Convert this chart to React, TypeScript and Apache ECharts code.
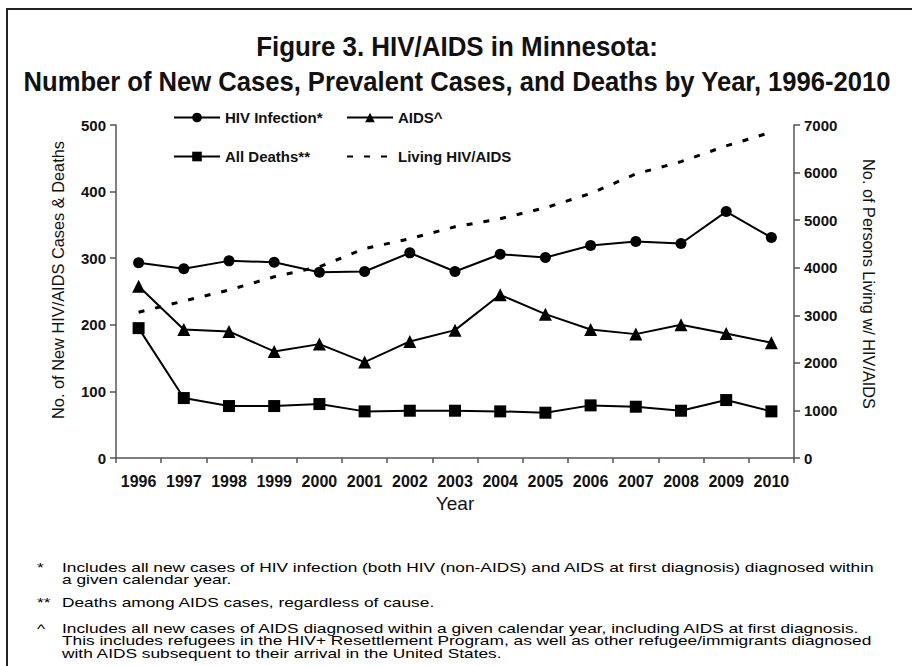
import React, { useEffect, useRef } from "react";
import * as echarts from "echarts";

const years = ["1996", "1997", "1998", "1999", "2000", "2001", "2002", "2003", "2004", "2005", "2006", "2007", "2008", "2009", "2010"];
const hivInfection = [293, 284, 296, 294, 279, 280, 308, 280, 306, 301, 319, 325, 322, 370, 331];
const aidsCases = [258, 193, 190, 160, 171, 144, 175, 192, 245, 216, 193, 186, 200, 187, 173];
const allDeaths = [195, 90, 78, 78, 81, 70, 71, 71, 70, 68, 79, 77, 71, 87, 70];
const livingHivAids = [3065, 3300, 3530, 3810, 4020, 4400, 4610, 4860, 5030, 5260, 5560, 5970, 6230, 6560, 6850];

const titleLine1 = "Figure 3. HIV/AIDS in Minnesota:";
const titleLine2 = "Number of New Cases, Prevalent Cases, and Deaths by Year, 1996-2010";
const leftAxisName = "No. of New HIV/AIDS Cases & Deaths";
const rightAxisName = "No. of Persons Living w/ HIV/AIDS";
const footnotes = [
  { mark: "*", lines: ["Includes all new cases of HIV infection (both HIV (non-AIDS) and AIDS at first diagnosis) diagnosed within", "a given calendar year."] },
  { mark: "**", lines: ["Deaths among AIDS cases, regardless of cause."] },
  { mark: "^", lines: ["Includes all new cases of AIDS diagnosed within a given calendar year, including AIDS at first diagnosis.", "This includes refugees in the HIV+ Resettlement Program, as well as other refugee/immigrants diagnosed", "with AIDS subsequent to their arrival in the United States."] },
];

const SANS = '"Liberation Sans", Arial, sans-serif';

function measure(text: string, font: string): number {
  const ctx = document.createElement("canvas").getContext("2d");
  if (!ctx) return text.length * 8;
  ctx.font = font;
  return ctx.measureText(text).width || text.length * 8;
}

export default function App() {
  const ref = useRef<HTMLDivElement>(null);
  useEffect(() => {
    if (!ref.current) return;
    const chart = echarts.init(ref.current, undefined, { renderer: "svg" });
    const axisLine = { show: true, lineStyle: { color: "#555", width: 1.5 } };
    const labelStyle = { color: "#111", fontFamily: SANS, fontWeight: "bold" as const, fontSize: 15 };
    const legendBase = {
      itemWidth: 46,
      itemHeight: 12,
      textStyle: { color: "#111", fontFamily: SANS, fontWeight: "bold" as const, fontSize: 15 },
      selectedMode: false,
    };

    const titleFont = `bold 28px ${SANS}`;
    const footFont = `15px ${SANS}`;
    const nameFont = `17px ${SANS}`;
    const footScale = 813 / measure(footnotes[0].lines[0], footFont);

    const graphics: any[] = [
      { type: "rect", shape: { x: 7, y: 9, width: 910, height: 720 }, style: { fill: "none", stroke: "#222", lineWidth: 2 }, silent: true },
      { type: "text", x: 457, y: 47, scaleX: 402 / measure(titleLine1, titleFont), style: { text: titleLine1, textAlign: "center", textVerticalAlign: "middle", font: titleFont, fill: "#111" } },
      { type: "text", x: 457, y: 82, scaleX: 868 / measure(titleLine2, titleFont), style: { text: titleLine2, textAlign: "center", textVerticalAlign: "middle", font: titleFont, fill: "#111" } },
      { type: "text", x: 58, y: 280, rotation: Math.PI / 2, scaleX: 278 / measure(leftAxisName, nameFont), style: { text: leftAxisName, textAlign: "center", textVerticalAlign: "middle", font: nameFont, fill: "#111" } },
      { type: "text", x: 869, y: 284, rotation: -Math.PI / 2, scaleX: 250 / measure(rightAxisName, nameFont), style: { text: rightAxisName, textAlign: "center", textVerticalAlign: "middle", font: nameFont, fill: "#111" } },
    ];
    const footY = [567, 602, 628];
    footnotes.forEach((f, i) => {
      graphics.push({ type: "text", x: 37, y: footY[i], scaleX: footScale, scaleY: 0.9, style: { text: f.mark, textVerticalAlign: "middle", font: footFont, fill: "#000" } });
      f.lines.forEach((ln, j) => {
        graphics.push({ type: "text", x: 62, y: footY[i] + j * 12.5, scaleX: footScale, scaleY: 0.9, style: { text: ln, textVerticalAlign: "middle", font: footFont, fill: "#000" } });
      });
    });
    chart.setOption({
      animation: false,
      backgroundColor: "#fff",
      grid: { left: 116, right: 118, top: 125, bottom: 208, containLabel: false },
      legend: [
        { ...legendBase, left: 168, top: 105, data: ["HIV Infection*"] },
        { ...legendBase, left: 341, top: 105, data: ["AIDS^"] },
        { ...legendBase, left: 168, top: 144, data: ["All Deaths**"] },
        { ...legendBase, left: 341, top: 144, data: ["Living HIV/AIDS"], itemStyle: { opacity: 0 } },
      ],
      xAxis: {
        type: "category",
        data: years,
        boundaryGap: true,
        name: "Year",
        nameLocation: "middle",
        nameGap: 36,
        nameTextStyle: { color: "#111", fontFamily: SANS, fontSize: 19 },
        axisLine,
        axisTick: { show: true, length: 5, lineStyle: { color: "#555", width: 1.5 } },
        axisLabel: { ...labelStyle, fontSize: 16, margin: 15, interval: 0 },
      },
      yAxis: [
        {
          type: "value",
          min: 0,
          max: 500,
          interval: 100,
          axisLine,
          axisTick: { show: true, length: 6, lineStyle: { color: "#555", width: 1.5 } },
          axisLabel: { ...labelStyle, margin: 10 },
          splitLine: { show: false },
        },
        {
          type: "value",
          min: 0,
          max: 7000,
          interval: 1000,
          position: "right",
          axisLine,
          axisTick: { show: true, length: 6, lineStyle: { color: "#555", width: 1.5 } },
          axisLabel: { ...labelStyle, margin: 10, formatter: (v: number) => String(v) },
          splitLine: { show: false },
        },
      ],
      series: [
        {
          name: "HIV Infection*",
          type: "line",
          data: hivInfection,
          yAxisIndex: 0,
          symbol: "circle",
          symbolSize: 11,
          lineStyle: { color: "#000", width: 2 },
          itemStyle: { color: "#000" },
        },
        {
          name: "AIDS^",
          type: "line",
          data: aidsCases,
          yAxisIndex: 0,
          symbol: "triangle",
          symbolSize: 13,
          lineStyle: { color: "#000", width: 2 },
          itemStyle: { color: "#000" },
        },
        {
          name: "All Deaths**",
          type: "line",
          data: allDeaths,
          yAxisIndex: 0,
          symbol: "rect",
          symbolSize: 12,
          lineStyle: { color: "#000", width: 2 },
          itemStyle: { color: "#000" },
        },
        {
          name: "Living HIV/AIDS",
          type: "line",
          data: livingHivAids,
          yAxisIndex: 1,
          symbol: "none",
          lineStyle: { color: "#000", width: 3, type: [6, 11] },
          itemStyle: { color: "#000" },
        },
      ],
      graphic: graphics,
    });
    return () => chart.dispose();
  }, []);
  return <div ref={ref} style={{ position: "fixed", left: 0, top: 0, width: 912, height: 666 }} />;
}
